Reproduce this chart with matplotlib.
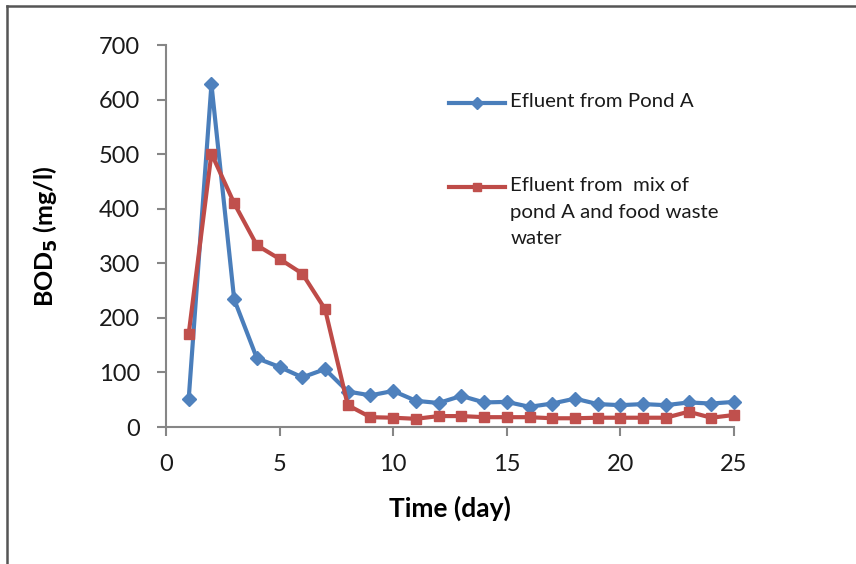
import matplotlib
matplotlib.use("Agg")
import matplotlib.pyplot as plt
from matplotlib.lines import Line2D

plt.rcParams['font.family'] = ['Lato', 'DejaVu Sans']

# Data
days = list(range(1, 26))
pond_a = [52, 628, 234, 126, 110, 91, 106, 65, 58, 66, 48, 44, 57, 45, 46,
          37, 43, 52, 42, 40, 42, 40, 45, 43, 46]
mix = [171, 501, 410, 333, 308, 281, 216, 40, 18, 17, 15, 20, 20, 18, 18,
       18, 16, 16, 17, 17, 17, 17, 28, 17, 22]

label_a = "Efluent from Pond A"
label_mix = ["Efluent from  mix of", "pond A and food waste", "water"]

blue_line, blue_fill = "#4A7EBB", "#4F81BD"
red_line, red_fill = "#BE4B48", "#C0504D"
axis_grey = "#868686"

fig = plt.figure(figsize=(8.56, 5.64), dpi=100)
ax = fig.add_axes([166 / 856, 1 - 427 / 564, 568 / 856, 382 / 564])

ax.plot(days, pond_a, color=blue_line, lw=3, marker="D", ms=7,
        mfc=blue_fill, mec=blue_fill, clip_on=False, zorder=3)
ax.plot(days, mix, color=red_line, lw=3, marker="s", ms=7,
        mfc=red_fill, mec=red_fill, clip_on=False, zorder=3)

ax.set_xlim(0, 25)
ax.set_ylim(0, 700)
ax.set_xticks(range(0, 26, 5))
ax.set_yticks(range(0, 701, 100))

for side in ["top", "right"]:
    ax.spines[side].set_visible(False)
for side in ["left", "bottom"]:
    ax.spines[side].set_color(axis_grey)
    ax.spines[side].set_linewidth(1.5)

ax.tick_params(axis="both", direction="out", length=6.5, width=1.5,
               color=axis_grey, labelsize=17, labelcolor="#1a1a1a")
ax.tick_params(axis="y", pad=12)
ax.tick_params(axis="x", pad=13)

ax.set_xlabel("Time (day)", fontsize=19, fontweight="bold")
ax.set_ylabel("BOD$_\\mathbf{5}$ (mg/l)", fontsize=18, fontweight="bold")
ax.yaxis.set_label_coords(-0.187, 0.5)
ax.xaxis.set_label_coords(0.5, -0.18)

# legend, drawn the way the original places it (handle on the first line)
legend_x0, legend_x1, text_x = 0.498, 0.597, 0.606
for y, col, fill, mk, lines in [(0.848, blue_line, blue_fill, "D", [label_a]),
                                (0.628, red_line, red_fill, "s", label_mix)]:
    ax.add_line(Line2D([legend_x0, legend_x1], [y, y], transform=ax.transAxes,
                       color=col, lw=3))
    ax.add_line(Line2D([(legend_x0 + legend_x1) / 2], [y], transform=ax.transAxes,
                       marker=mk, ms=6, mfc=fill, mec=fill, lw=0))
    ax.text(text_x, y + 0.026, "\n".join(lines), transform=ax.transAxes,
            fontsize=14.7, va="top", ha="left", linespacing=1.68,
            color="#1a1a1a")

# outer frame of the picture
fig.add_artist(Line2D([7 / 856, 7 / 856], [0, 1 - 6 / 564], color="#555555", lw=1.8))
fig.add_artist(Line2D([7 / 856, 1], [1 - 6 / 564, 1 - 6 / 564], color="#555555", lw=1.8))

fig.savefig("out.png", dpi=100)
